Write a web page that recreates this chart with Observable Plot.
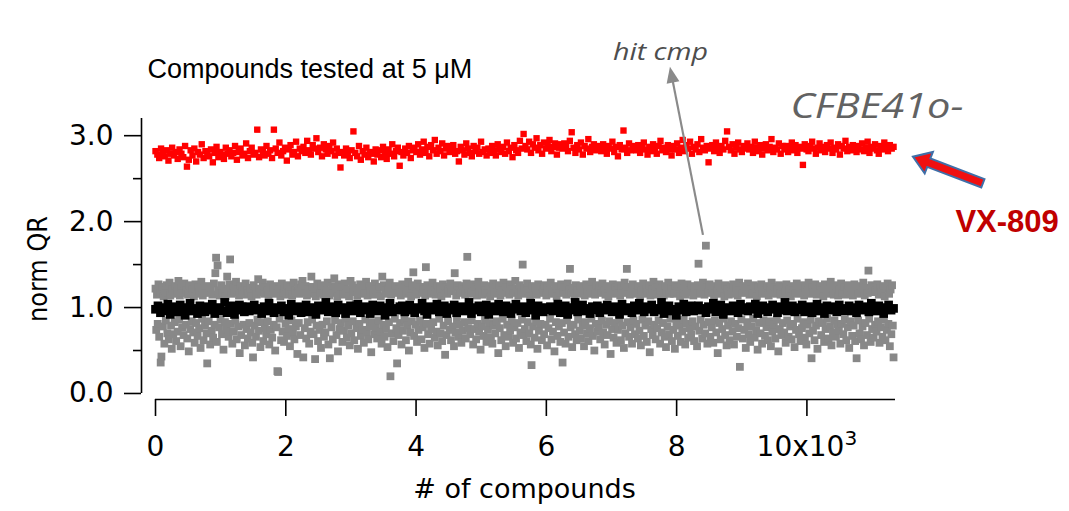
<!DOCTYPE html>
<html><head><meta charset="utf-8">
<script src="https://cdn.jsdelivr.net/npm/d3@7"></script>
<script src="https://cdn.jsdelivr.net/npm/@observablehq/plot@0.6"></script>
<style>html,body{margin:0;padding:0;background:#fff;overflow:hidden}</style>
</head><body><div id="chart"></div>
<script>
const N_COMPOUNDS = 11330;
const xTicks = [0, 2000, 4000, 6000, 8000, 10000];
const yTicks = [0, 1, 2, 3];
const yMinorTicks = [0.5, 1.5, 2.5];

// VX-809 positive controls
const vx809 = [
2.82,2.78,2.74,2.85,2.80,2.76,2.83,2.71,2.79,2.86,2.77,2.81,2.73,2.84,2.79,2.75,2.88,2.64,2.72,2.83,
2.77,2.85,2.70,2.81,2.78,2.90,2.74,2.82,2.79,2.76,2.84,2.69,2.80,2.87,2.75,2.81,2.78,2.73,2.86,2.79,
2.83,2.76,2.80,2.88,2.72,2.81,2.85,2.77,2.79,2.91,2.74,2.82,2.86,2.78,2.80,3.07,2.75,2.84,2.81,2.77,
2.88,2.79,2.83,2.74,3.07,2.85,2.80,2.92,2.77,2.82,2.86,2.71,2.84,2.89,2.78,2.81,2.93,2.76,2.85,2.82,
2.87,2.80,2.94,2.83,2.78,2.89,2.85,2.97,2.81,2.86,2.76,2.90,2.84,2.79,2.88,2.82,2.92,2.77,2.85,2.80,
2.63,2.81,2.77,2.85,2.79,2.74,2.83,3.05,2.80,2.76,2.88,2.72,2.82,2.78,2.86,2.75,2.81,2.79,2.70,2.84,
2.78,2.83,2.75,2.87,2.80,2.73,2.84,2.79,2.90,2.76,2.82,2.86,2.65,2.81,2.77,2.85,2.80,2.88,2.74,2.83,
2.86,2.81,2.90,2.78,2.84,2.93,2.80,2.87,2.76,2.89,2.83,2.95,2.79,2.86,2.82,2.91,2.77,2.85,2.88,2.81,
2.84,2.89,2.79,2.82,2.70,2.87,2.83,2.78,2.91,2.85,2.80,2.76,2.88,2.82,2.86,2.79,2.93,2.81,2.84,2.77,
2.85,2.80,2.88,2.83,2.77,2.90,2.84,2.81,2.87,2.79,2.92,2.82,2.86,2.75,2.89,2.83,2.80,2.94,2.85,3.02,
2.88,2.84,2.93,2.80,2.90,2.86,2.97,2.83,2.89,2.79,2.92,2.85,2.88,2.95,2.82,2.87,2.91,2.78,2.86,2.90,
2.85,2.91,2.87,2.82,2.94,3.04,2.86,2.80,2.89,2.84,2.92,2.78,2.88,2.85,2.96,2.81,2.87,2.90,2.83,2.88,
2.86,2.82,2.90,2.84,2.79,2.88,2.85,2.93,2.81,2.87,2.76,2.89,2.84,3.06,2.86,2.80,2.91,2.83,2.88,2.85,
2.83,2.89,2.80,2.86,2.92,2.84,2.78,2.87,2.82,2.90,2.85,2.79,2.88,2.94,2.83,2.86,2.81,2.89,2.84,2.77,
2.88,2.84,2.91,2.80,2.86,2.95,2.82,2.89,2.85,2.93,2.79,2.87,2.84,2.90,2.81,2.96,2.86,2.83,2.88,2.69,
2.85,2.89,2.82,2.92,2.86,2.80,2.88,2.84,2.94,3.05,2.87,2.83,2.90,2.79,2.86,2.92,2.84,2.81,2.88,2.85,
2.91,2.84,2.87,2.80,2.93,2.86,2.82,2.89,2.78,2.85,2.90,2.83,2.87,2.96,2.81,2.86,2.84,2.91,2.79,2.88,
2.84,2.88,2.81,2.86,2.92,2.83,2.89,2.80,2.87,2.85,2.66,2.90,2.84,2.82,2.88,2.93,2.85,2.79,2.86,2.91,
2.83,2.87,2.81,2.89,2.85,2.92,2.80,2.86,2.84,2.90,2.78,2.88,2.85,2.94,2.82,2.87,2.83,2.89,2.86,2.81,
2.88,2.84,2.91,2.82,2.86,2.93,2.80,2.87,2.85,2.90,2.83,2.79,2.88,2.84,2.92,2.86,2.82,2.89,2.85,2.87
];

// DMSO (vehicle) controls
const dmso = [
0.98,1.02,0.94,1.00,0.96,1.04,0.92,0.99,1.01,0.95,1.03,0.97,0.91,1.00,1.05,0.96,0.99,0.93,1.02,0.98,
0.95,1.01,0.97,1.04,0.93,0.99,1.00,0.96,1.06,0.94,0.98,1.02,0.92,0.97,1.03,0.99,0.95,1.01,0.96,1.00,
1.03,0.97,0.99,0.93,1.01,0.96,1.05,0.98,0.94,1.00,0.97,1.02,0.95,0.99,0.91,1.04,0.98,0.96,1.01,0.94,
0.99,1.03,0.95,0.98,1.00,0.92,1.02,0.97,0.99,1.06,0.95,0.98,1.01,0.94,1.03,0.97,1.00,0.93,0.99,1.02,
0.96,1.00,1.04,0.94,0.98,1.01,0.97,0.93,1.03,0.99,0.96,1.02,0.98,0.91,1.00,1.05,0.95,0.99,0.97,1.01,
1.02,0.95,0.99,1.03,0.97,0.94,1.00,0.98,1.05,0.96,0.92,1.01,0.99,0.97,1.04,0.95,0.98,1.02,0.93,1.00,
0.97,1.03,0.94,0.99,1.01,0.96,0.98,1.06,0.93,1.00,0.97,1.02,0.95,0.99,1.03,0.92,0.98,1.01,0.96,1.04,
0.99,0.95,1.02,0.97,0.93,1.00,1.04,0.98,0.96,1.01,0.94,0.99,1.05,0.97,0.91,1.02,0.98,0.95,1.00,0.97,
1.01,0.96,0.98,1.04,0.94,0.99,1.02,0.92,0.97,1.00,1.06,0.95,0.98,1.03,0.96,0.99,0.93,1.01,0.97,1.02,
0.94,1.00,0.97,1.03,0.99,0.95,1.01,0.98,0.92,1.04,0.96,1.00,0.98,0.94,1.02,0.97,1.05,0.99,0.95,1.01,
0.98,1.03,0.95,0.99,0.97,1.06,0.93,1.00,1.02,0.96,0.98,0.91,1.01,0.97,1.04,0.95,0.99,1.02,0.96,1.00,
1.02,0.97,0.99,0.94,1.01,0.98,1.05,0.95,0.99,1.03,0.92,0.98,1.00,0.96,1.02,0.99,0.94,1.04,0.97,1.00,
0.96,1.01,0.98,1.04,0.93,0.99,1.02,0.97,0.95,1.00,1.03,0.98,0.94,1.01,0.97,1.06,0.96,0.99,1.02,0.95,
1.00,0.97,1.03,0.95,0.99,1.01,0.94,0.98,1.04,0.96,1.00,0.93,1.02,0.98,0.97,1.01,0.95,1.03,0.99,0.96,
0.98,1.02,0.96,1.00,0.94,1.03,0.99,0.97,1.01,0.95,1.05,0.98,0.96,1.02,0.99,0.93,1.00,1.03,0.97,0.99
];

// tested compounds (visible ones)
const compounds = [
1.22,0.74,1.15,0.81,1.27,0.66,1.18,0.36,0.43,1.24,0.78,1.13,0.58,1.20,0.85,1.26,0.70,1.17,0.63,1.29,1.14,0.79,0.52,1.21,0.69,
1.16,0.83,1.25,0.61,1.19,0.72,1.31,0.86,1.14,0.55,1.23,0.77,1.17,0.68,1.28,0.97,0.80,1.20,0.64,1.15,0.49,1.26,0.75,1.18,0.84,
1.21,0.71,1.13,0.59,1.27,0.82,1.16,0.67,1.24,0.76,1.19,0.53,1.30,0.87,1.14,0.62,1.22,0.79,1.17,0.70,0.35,1.25,0.84,1.18,0.57,
1.23,0.73,1.15,0.65,1.28,0.80,1.40,1.58,0.60,1.49,1.20,0.77,1.14,0.86,1.26,0.69,1.17,0.51,1.22,0.83,1.13,0.74,1.36,1.19,0.66,
1.27,1.56,0.81,1.16,0.58,1.24,0.72,1.18,0.85,1.30,0.63,1.21,0.78,1.14,0.47,1.25,0.68,1.19,1.02,0.80,1.15,0.56,1.28,0.75,1.20,
0.64,1.17,0.82,1.23,0.71,1.13,0.59,0.42,1.26,0.79,1.19,0.66,1.15,0.86,1.33,0.73,1.22,0.54,1.18,0.83,1.29,0.61,1.16,0.76,1.24,
0.69,1.20,0.84,1.14,0.57,1.27,0.74,1.18,0.65,1.23,0.80,1.16,0.50,1.25,0.77,0.26,0.25,1.21,0.87,1.13,0.62,1.28,0.72,1.17,0.60,
1.22,0.81,1.15,0.67,1.26,0.75,1.19,0.55,1.24,0.85,1.14,0.70,1.29,0.63,1.20,0.78,1.17,0.46,1.23,0.82,1.16,0.68,1.27,0.99,1.31,
0.42,1.18,0.76,1.25,0.64,1.14,0.83,1.21,0.58,1.16,0.72,1.36,0.86,1.24,0.69,1.19,0.40,1.13,0.79,1.28,0.61,1.22,0.74,1.17,0.53,
1.26,0.80,1.15,0.66,1.23,0.71,1.18,0.84,1.29,0.57,1.14,0.41,1.20,0.77,1.25,0.63,1.17,1.34,0.85,1.22,0.68,1.13,0.49,1.27,0.75,
1.19,0.82,1.24,0.60,1.15,0.73,1.28,0.87,1.16,0.65,1.21,0.79,1.13,0.56,1.31,0.70,1.26,0.84,1.18,0.62,1.23,1.04,0.76,1.14,0.52,
1.20,0.81,1.27,0.67,1.16,0.74,1.22,0.59,1.17,0.86,1.30,0.71,1.14,0.63,1.25,0.78,1.19,0.48,1.23,0.83,1.15,0.69,1.28,0.77,1.21,
0.64,1.18,0.85,1.24,0.72,1.13,0.58,1.36,0.80,1.26,0.66,1.20,0.75,1.16,0.54,1.22,0.83,1.29,0.20,1.15,0.70,1.23,0.61,1.18,0.87,
1.25,0.76,0.35,1.17,0.68,1.21,0.82,1.14,0.57,1.27,0.73,1.19,0.86,1.23,0.62,1.16,0.79,1.30,0.50,1.20,0.71,1.13,0.84,1.26,1.41,
0.67,1.22,0.80,1.15,0.60,1.28,0.74,1.18,0.85,1.24,0.63,1.17,0.77,1.21,0.53,1.14,1.47,0.81,1.26,0.69,1.19,0.58,1.23,0.75,1.16,
1.29,0.83,1.20,0.65,1.15,0.72,1.25,0.56,1.18,0.87,1.22,0.70,1.13,0.61,1.27,0.79,1.17,0.45,1.24,0.68,1.16,0.84,1.21,0.74,1.28,
0.62,1.19,0.78,1.23,0.55,1.40,0.71,1.14,0.86,1.26,0.66,1.20,0.80,1.17,0.59,1.25,0.73,1.21,0.83,1.15,0.64,1.28,1.59,0.76,1.18,
1.22,0.69,1.16,0.85,1.27,0.57,1.19,0.75,1.24,0.63,1.14,0.81,1.30,0.72,1.18,0.51,1.23,0.78,1.15,0.67,1.26,0.86,1.20,0.60,1.17,
0.74,1.25,0.82,1.13,0.65,1.21,0.58,1.28,0.79,1.16,0.70,1.23,0.84,1.18,0.47,1.26,0.76,1.14,0.62,1.20,0.87,1.29,0.68,1.17,0.55,
1.24,0.80,1.19,0.66,1.15,0.73,1.27,0.85,1.21,0.59,1.17,0.77,1.31,0.64,1.22,0.82,1.14,0.53,1.26,0.71,1.18,0.86,1.50,0.68,1.23,
0.75,1.16,0.61,1.28,0.83,1.20,0.70,1.13,0.57,0.33,1.25,0.78,1.18,0.65,1.22,0.84,1.15,0.52,1.27,0.73,1.19,0.81,1.24,0.62,1.17,
1.21,0.69,1.26,0.80,1.14,0.56,1.23,0.76,1.18,0.87,1.29,0.63,1.16,0.72,1.20,0.49,1.25,0.83,1.13,0.67,1.22,0.78,1.17,0.60,1.27,
0.82,0.36,1.19,0.71,1.24,0.58,1.15,0.85,1.28,0.66,1.21,1.45,0.77,1.17,0.54,1.23,0.80,1.14,0.69,1.26,0.62,1.20,0.86,1.16,0.73,
1.25,0.64,1.18,0.79,1.22,0.55,1.14,0.83,1.27,0.70,1.19,0.61,1.24,0.76,1.16,0.87,1.30,0.67,1.21,0.50,1.15,0.81,1.26,0.72,1.18,
0.78,1.23,0.63,1.17,0.85,1.28,0.71,1.20,0.57,1.15,0.80,1.25,0.68,1.13,0.84,1.22,0.46,1.19,0.75,1.27,0.65,1.16,0.82,1.24,0.59,
1.20,0.74,1.26,0.86,1.14,0.62,1.22,0.79,1.17,0.53,1.29,0.70,1.18,1.45,0.83,1.24,0.66,1.15,0.77,1.21,0.58,1.27,0.85,1.16,0.69,
1.23,0.81,1.18,0.64,1.25,0.73,1.13,0.56,1.20,0.86,1.28,0.67,1.16,0.79,1.22,0.60,1.19,0.84,1.26,0.48,1.14,0.75,1.21,0.68,1.30,
0.80,1.17,0.63,1.24,0.76,1.15,0.85,1.27,0.58,1.19,0.71,1.22,0.82,1.14,0.66,1.25,0.54,1.18,0.78,1.29,0.69,1.16,0.87,1.23,0.61,
1.21,0.74,1.16,0.52,1.26,0.83,1.19,0.67,1.24,0.79,1.13,0.60,1.28,0.72,1.17,0.86,1.22,0.57,1.15,0.81,1.27,0.65,1.20,0.76,1.18,
0.69,1.25,0.84,1.14,0.61,1.23,0.78,1.18,0.55,1.26,1.51,0.73,1.16,0.86,1.21,0.64,1.29,0.80,1.15,0.70,1.72,1.24,0.58,1.19,0.83,
1.27,0.66,1.17,0.77,1.22,0.59,1.14,0.85,1.25,0.71,1.20,0.47,1.28,0.82,1.16,0.63,1.23,0.75,1.18,0.87,1.13,0.68,1.26,0.56,1.21,
0.79,1.15,0.62,1.24,0.84,1.19,0.72,1.27,0.57,1.16,0.81,1.22,0.66,1.14,0.76,1.29,0.31,1.20,0.86,1.17,0.64,1.25,0.74,1.18,0.53,
1.22,0.83,1.28,0.69,1.15,0.60,1.21,0.78,1.17,0.87,1.26,0.65,1.19,0.73,1.13,0.51,1.24,0.82,1.18,0.70,1.27,0.58,1.16,0.85,1.23,
0.67,1.20,0.77,1.25,0.62,1.14,0.84,1.22,0.55,1.29,0.72,1.17,0.80,1.24,0.64,1.16,0.86,1.21,0.49,1.26,0.75,1.15,0.68,1.19,0.82,
1.24,0.71,1.18,0.59,1.27,0.85,1.15,0.66,1.21,0.78,1.13,0.63,1.25,0.81,1.20,0.54,1.17,0.74,1.28,0.87,1.16,0.69,1.23,0.61,1.19,
0.76,1.26,0.83,1.14,0.65,1.22,0.57,1.18,0.80,1.29,0.70,1.16,0.86,0.41,1.24,0.73,1.19,0.62,1.27,0.79,1.15,0.52,1.21,0.84,1.17,
1.25,0.68,1.20,0.82,1.13,0.60,1.27,0.75,1.18,0.87,1.23,0.64,1.16,0.78,1.30,0.56,1.22,0.71,1.15,0.85,1.26,0.66,1.19,0.80,1.14,
0.73,1.21,0.58,1.28,0.81,1.17,0.69,1.24,0.86,1.15,0.62,1.20,0.77,1.26,0.53,1.18,0.84,1.23,0.67,1.14,0.79,1.27,0.61,1.19,0.41,
1.22,0.85,1.16,0.70,1.25,0.63,1.19,0.78,1.29,0.56,1.14,0.82,1.23,0.68,1.17,1.43,0.87,1.21,0.60,1.26,0.75,1.18,0.65,1.24,0.80,
1.20,0.72,1.27,0.84,1.15,0.59,1.23,0.77,1.18,0.66,1.25,0.86,1.13,0.62,1.22,0.74,1.28,0.81,1.16,0.55,1.21,0.69,1.26,0.79,0.42
];

// annotations (data units)
const titleNote = {text: "Compounds tested at 5 \u03bcM", x: -123, y: 3.77};
const hitNote   = {text: "hit cmp", x: 7752, y: 3.965};
const cellNote  = {text: "CFBE41o-", x: 9747, y: 3.335};
const vxNote    = {text: "VX-809", x: 12280, y: 1.99};
const hitArrow  = {x1: 8412, y1: 1.84, x2: 7905, y2: 3.795};
const vxArrow   = {x1: 12709, y1: 2.44, x2: 11635, y2: 2.75};

const xDomain = [-215, 11360];
const yDomain = [-0.07, 3.2];

const rows = vals => vals.map((v, i) => ({x: i * N_COMPOUNDS / (vals.length - 1), y: v}));

const FONT = "DejaVu Sans";

const chart = Plot.plot({
  width: 1069, height: 511,
  marginLeft: 141, marginRight: 174, marginTop: 118, marginBottom: 112,
  x: {domain: xDomain},
  y: {domain: yDomain},
  style: {fontFamily: FONT, background: "#fff", color: "#000"},
  marks: [
    Plot.dot(rows(compounds), {x: "x", y: "y", symbol: "square", r: 4.4, fill: "#888888"}),
    Plot.dot(rows(dmso), {x: "x", y: "y", symbol: "square", r: 4.9, fill: "#000000"}),
    Plot.dot(rows(vx809), {x: "x", y: "y", symbol: "square", r: 3.6, fill: "#ff0000"}),
    Plot.ruleX([xDomain[0]], {y1: 0, y2: yDomain[1], stroke: "#000", strokeWidth: 1.6}),
    Plot.ruleY([yDomain[0]], {x1: 0, x2: xDomain[1], stroke: "#000", strokeWidth: 1.6}),
    Plot.axisY(yTicks, {anchor: "left", tickSize: 17, tickPadding: 11, strokeWidth: 1.6,
      tickFormat: d3.format(".1f"), fontSize: 28, label: null}),
    Plot.axisY(yMinorTicks, {anchor: "left", tickSize: 8, strokeWidth: 1.6, tickFormat: () => "", label: null}),
    Plot.axisX(xTicks, {anchor: "bottom", tickSize: 17, tickPadding: 20, strokeWidth: 1.6, fontSize: 28,
      tickFormat: d => d === 10000 ? "10x10\u00b3" : String(d / 1000), label: null}),
    Plot.text(["norm QR"], {frameAnchor: "left", textAnchor: "middle", dx: -103, dy: 10, rotate: -90,
      fontSize: 26, fill: "#000"}),
    Plot.text(["# of compounds"], {frameAnchor: "bottom", textAnchor: "middle", dx: 6, dy: 98, fontSize: 27, fill: "#000"}),
    Plot.text([titleNote], {x: "x", y: "y", text: "text", textAnchor: "start", fontSize: 27,
      fontFamily: "Liberation Sans, Arial, sans-serif", fill: "#000"}),
    Plot.text([hitNote], {x: "x", y: "y", text: "text", fontSize: 23, fontStyle: "italic",
      fontFamily: "Open Sans, sans-serif", fill: "#4d4d4d"}),
    Plot.text([cellNote], {x: "x", y: "y", text: "text", textAnchor: "start", fontSize: 34, fontStyle: "italic",
      fontFamily: "Open Sans, sans-serif", fill: "#626262"}),
    Plot.text([vxNote], {x: "x", y: "y", text: "text", textAnchor: "start", fontSize: 31, fontWeight: "bold",
      fontFamily: "Liberation Sans, Arial, sans-serif", fill: "#c00000"})
  ]
});
document.getElementById("chart").appendChild(chart);

// ---- post-processing: stretched annotation text, superscript, arrows ----
const svg = d3.select(chart);
svg.selectAll("text").each(function () {
  const t = this.textContent, s = d3.select(this);
  if (t === "hit cmp") s.attr("textLength", 95).attr("lengthAdjust", "spacingAndGlyphs");
  if (t === "CFBE41o-") s.attr("textLength", 173).attr("lengthAdjust", "spacingAndGlyphs");
  if (t === "norm QR") s.attr("textLength", 106).attr("lengthAdjust", "spacingAndGlyphs");
  if (t === "10x10\u00b3") {
    s.text("10x10");
    s.append("tspan").attr("dy", "-0.55em").attr("font-size", "0.72em").text("3");
  }
});

const sx = chart.scale("x"), sy = chart.scale("y");
const X = v => sx.apply(v), Y = v => sy.apply(v);

function geom(a) {
  const tail = [X(a.x1), Y(a.y1)], tip = [X(a.x2), Y(a.y2)];
  const dx = tip[0] - tail[0], dy = tip[1] - tail[1], L = Math.hypot(dx, dy);
  const u = [dx / L, dy / L], p = [-u[1], u[0]];
  return {tail, tip, u, p};
}
const g = svg.append("g").attr("class", "annot-arrows");

// hit compound arrow (grey line, filled head)
{
  const {tail, tip, u, p} = geom(hitArrow);
  const hl = 16, hw = 6.5;
  const base = [tip[0] - u[0] * hl, tip[1] - u[1] * hl];
  g.append("line").attr("x1", tail[0]).attr("y1", tail[1]).attr("x2", base[0] + u[0] * 2).attr("y2", base[1] + u[1] * 2)
    .attr("stroke", "#8a8a8a").attr("stroke-width", 2.2);
  g.append("path").attr("d", d3.line()([tip, [base[0] + p[0] * hw, base[1] + p[1] * hw], [base[0] - p[0] * hw, base[1] - p[1] * hw]]) + "Z")
    .attr("fill", "#8a8a8a");
}
// VX-809 block arrow (red fill, blue outline)
{
  const {tail, tip, u, p} = geom(vxArrow);
  const hl = 17, hw = 11.5, sw = 4.5;
  const base = [tip[0] - u[0] * hl, tip[1] - u[1] * hl];
  const pt = (o, k) => [o[0] + p[0] * k, o[1] + p[1] * k];
  const poly = [pt(tail, sw), pt(base, sw), pt(base, hw), tip, pt(base, -hw), pt(base, -sw), pt(tail, -sw)];
  g.append("path").attr("d", d3.line()(poly) + "Z")
    .attr("fill", "#f01010").attr("stroke", "#3f6fa8").attr("stroke-width", 2).attr("stroke-linejoin", "miter");
}
</script></body></html>
